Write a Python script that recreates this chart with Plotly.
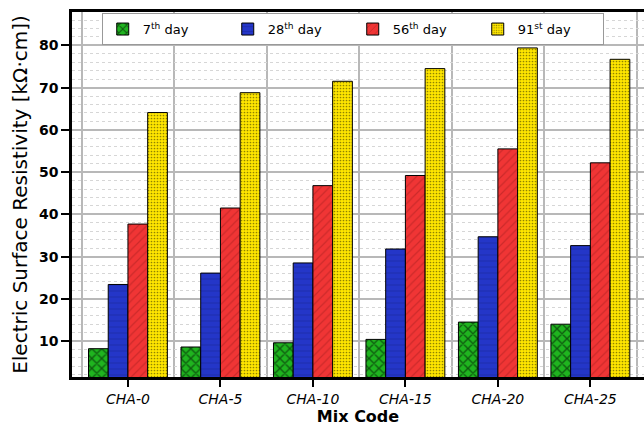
import plotly.graph_objects as go

categories = ["CHA-0", "CHA-5", "CHA-10", "CHA-15", "CHA-20", "CHA-25"]
series_names = ["7<sup>th</sup> day", "28<sup>th</sup> day", "56<sup>th</sup> day", "91<sup>st</sup> day"]
day7 = [8.2, 8.6, 9.6, 10.4, 14.5, 14.0]
day28 = [23.4, 26.1, 28.5, 31.8, 34.7, 32.6]
day56 = [37.7, 41.5, 46.8, 49.2, 55.5, 52.2]
day91 = [64.1, 68.8, 71.5, 74.5, 79.4, 76.7]
y_ticks = [10, 20, 30, 40, 50, 60, 70, 80]

series = [day7, day28, day56, day91]
colors = ["#1fb41f", "#2436c8", "#f03535", "#ffe600"]
patterns = [
    dict(shape="x", fgcolor="#000000", size=7, solidity=0.35),
    dict(shape="-", fgcolor="#16208a", size=6, solidity=0.15),
    dict(shape="/", fgcolor="#a82020", size=6, solidity=0.2),
    dict(shape=".", fgcolor="#222200", size=3, solidity=0.25),
]

xpos = list(range(len(categories)))
fig = go.Figure()
for name, vals, c, p in zip(series_names, series, colors, patterns):
    pat = dict(p)
    pat["bgcolor"] = c
    fig.add_trace(go.Bar(
        x=xpos, y=vals, name=name,
        marker=dict(color=c, pattern=pat, line=dict(color="black", width=1)),
    ))

fig.update_layout(
    width=644, height=428,
    margin=dict(l=72, r=0, t=12, b=51),
    paper_bgcolor="white", plot_bgcolor="white",
    barmode="group", bargap=0.147, bargroupgap=0,
    font=dict(family="DejaVu Sans", color="black"),
    showlegend=True,
    legend=dict(
        orientation="h", x=0.052, y=0.997, xanchor="left", yanchor="top",
        bgcolor="white", bordercolor="#999999", borderwidth=1,
        font=dict(size=13, family="DejaVu Sans"),
        entrywidth=80, entrywidthmode="pixels",
        traceorder="normal", tracegroupgap=0,
    ),
    xaxis=dict(
        range=[-0.605, 5.58],
        tickmode="array", tickvals=xpos, ticktext=categories,
        ticks="outside", ticklen=7, tickwidth=2, tickcolor="black",
        tickfont=dict(size=14, family="DejaVu Sans", style="italic"),
        showgrid=False, zeroline=False,
        showline=True, linecolor="black", linewidth=2.5, mirror=True,
        minor=dict(tickmode="linear", tick0=-0.5, dtick=1, showgrid=True,
                   gridcolor="#b8b8b8", gridwidth=1.5, ticklen=0),
        title=dict(text="<b>Mix Code</b>", font=dict(size=16, family="DejaVu Sans"), standoff=0),
    ),
    yaxis=dict(
        range=[1.5, 87.9],
        tickmode="array", tickvals=y_ticks,
        ticks="outside", ticklen=8, tickwidth=2, tickcolor="black",
        tickfont=dict(size=14, family="DejaVu Sans", weight="bold"),
        showgrid=True, gridcolor="#b8b8b8", gridwidth=1.5, zeroline=False,
        showline=True, linecolor="black", linewidth=2.5,
        minor=dict(tickmode="linear", tick0=0, dtick=2, showgrid=True,
                   gridcolor="#d6d6d6", gridwidth=1, griddash="dot", ticklen=0),
        title=dict(text="Electric Surface Resistivity [kΩ·cm])", font=dict(size=20, family="DejaVu Sans"), standoff=6),
    ),
)

fig.write_html("out.html")
